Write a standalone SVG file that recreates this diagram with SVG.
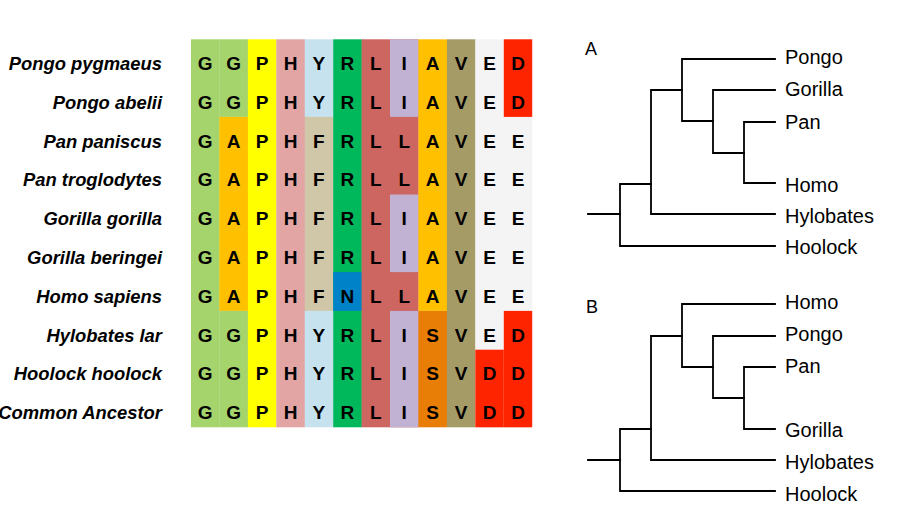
<svg xmlns="http://www.w3.org/2000/svg" width="900" height="522" viewBox="0 0 900 522">
<style>
.sp{font-family:"Liberation Sans",Arial,sans-serif;font-size:18.4px;font-weight:bold;font-style:italic;text-anchor:end;fill:#000}
.aa{font-family:"Liberation Sans",Arial,sans-serif;font-size:19px;font-weight:bold;text-anchor:middle;fill:#000}
.tl{font-family:"Liberation Sans",Arial,sans-serif;font-size:20px;fill:#000}
.pl{font-family:"Liberation Sans",Arial,sans-serif;font-size:18px;fill:#000}
.br{fill:none;stroke:#000;stroke-width:1.8;stroke-linecap:square}
.cG{fill:#A6D46C}.cA{fill:#FFC000}.cP{fill:#FFFF00}.cH{fill:#E3A4A4}.cY{fill:#C5E2EE}.cF{fill:#D0C6A8}
.cR{fill:#00B85C}.cN{fill:#0082C8}.cL{fill:#CD6661}.cI{fill:#C1B2D3}.cS{fill:#E97E07}.cV{fill:#A59B67}
.cE{fill:#F4F4F4}.cD{fill:#FF2400}
</style>
<rect width="900" height="522" fill="#fff"/>
<g id="alignment-colors">
<rect class="cG" x="191" y="39.3" width="28.7" height="388"/>
<rect class="cG" x="219.4" y="39.3" width="28.7" height="77.6"/>
<rect class="cA" x="219.4" y="116.9" width="28.7" height="194"/>
<rect class="cG" x="219.4" y="310.9" width="28.7" height="116.4"/>
<rect class="cP" x="247.9" y="39.3" width="28.7" height="388"/>
<rect class="cH" x="276.3" y="39.3" width="28.7" height="388"/>
<rect class="cY" x="304.7" y="39.3" width="28.7" height="77.6"/>
<rect class="cF" x="304.7" y="116.9" width="28.7" height="194"/>
<rect class="cY" x="304.7" y="310.9" width="28.7" height="116.4"/>
<rect class="cR" x="333.2" y="39.3" width="28.7" height="388"/>
<rect class="cN" x="333.2" y="272.1" width="28.7" height="38.8"/>
<rect class="cL" x="361.6" y="39.3" width="28.7" height="388"/>
<rect class="cL" x="390" y="39.3" width="28.7" height="388"/>
<rect class="cI" x="390" y="39.3" width="28.5" height="77.6"/>
<rect class="cI" x="390" y="194.5" width="28.5" height="77.6"/>
<rect class="cI" x="390" y="310.9" width="28.5" height="116.4"/>
<rect class="cA" x="418.4" y="39.3" width="28.7" height="271.6"/>
<rect class="cS" x="418.4" y="310.9" width="28.7" height="116.4"/>
<rect class="cV" x="446.9" y="39.3" width="28.7" height="388"/>
<rect class="cE" x="475.3" y="39.3" width="28.7" height="388"/>
<rect class="cD" x="475.3" y="349.7" width="28.7" height="77.6"/>
<rect class="cE" x="503.8" y="39.3" width="28.4" height="388"/>
<rect class="cD" x="503.8" y="39.3" width="28.4" height="77.6"/>
<rect class="cD" x="503.8" y="310.9" width="28.4" height="116.4"/>
</g>
<g id="row-pongo-pygmaeus">
<text class="sp" x="162" y="70">Pongo pygmaeus</text>
<text class="aa" y="70"><tspan x="205.2">G</tspan><tspan x="233.6">G</tspan><tspan x="262.1">P</tspan><tspan x="290.5">H</tspan><tspan x="318.9">Y</tspan><tspan x="347.4">R</tspan><tspan x="375.8">L</tspan><tspan x="404.2">I</tspan><tspan x="432.6">A</tspan><tspan x="461.1">V</tspan><tspan x="489.5">E</tspan><tspan x="518">D</tspan></text>
</g>
<g id="row-pongo-abelii">
<text class="sp" x="162" y="108.8">Pongo abelii</text>
<text class="aa" y="108.8"><tspan x="205.2">G</tspan><tspan x="233.6">G</tspan><tspan x="262.1">P</tspan><tspan x="290.5">H</tspan><tspan x="318.9">Y</tspan><tspan x="347.4">R</tspan><tspan x="375.8">L</tspan><tspan x="404.2">I</tspan><tspan x="432.6">A</tspan><tspan x="461.1">V</tspan><tspan x="489.5">E</tspan><tspan x="518">D</tspan></text>
</g>
<g id="row-pan-paniscus">
<text class="sp" x="162" y="147.6">Pan paniscus</text>
<text class="aa" y="147.6"><tspan x="205.2">G</tspan><tspan x="233.6">A</tspan><tspan x="262.1">P</tspan><tspan x="290.5">H</tspan><tspan x="318.9">F</tspan><tspan x="347.4">R</tspan><tspan x="375.8">L</tspan><tspan x="404.2">L</tspan><tspan x="432.6">A</tspan><tspan x="461.1">V</tspan><tspan x="489.5">E</tspan><tspan x="518">E</tspan></text>
</g>
<g id="row-pan-troglodytes">
<text class="sp" x="162" y="186.4">Pan troglodytes</text>
<text class="aa" y="186.4"><tspan x="205.2">G</tspan><tspan x="233.6">A</tspan><tspan x="262.1">P</tspan><tspan x="290.5">H</tspan><tspan x="318.9">F</tspan><tspan x="347.4">R</tspan><tspan x="375.8">L</tspan><tspan x="404.2">L</tspan><tspan x="432.6">A</tspan><tspan x="461.1">V</tspan><tspan x="489.5">E</tspan><tspan x="518">E</tspan></text>
</g>
<g id="row-gorilla-gorilla">
<text class="sp" x="162" y="225.2">Gorilla gorilla</text>
<text class="aa" y="225.2"><tspan x="205.2">G</tspan><tspan x="233.6">A</tspan><tspan x="262.1">P</tspan><tspan x="290.5">H</tspan><tspan x="318.9">F</tspan><tspan x="347.4">R</tspan><tspan x="375.8">L</tspan><tspan x="404.2">I</tspan><tspan x="432.6">A</tspan><tspan x="461.1">V</tspan><tspan x="489.5">E</tspan><tspan x="518">E</tspan></text>
</g>
<g id="row-gorilla-beringei">
<text class="sp" x="162" y="264">Gorilla beringei</text>
<text class="aa" y="264"><tspan x="205.2">G</tspan><tspan x="233.6">A</tspan><tspan x="262.1">P</tspan><tspan x="290.5">H</tspan><tspan x="318.9">F</tspan><tspan x="347.4">R</tspan><tspan x="375.8">L</tspan><tspan x="404.2">I</tspan><tspan x="432.6">A</tspan><tspan x="461.1">V</tspan><tspan x="489.5">E</tspan><tspan x="518">E</tspan></text>
</g>
<g id="row-homo-sapiens">
<text class="sp" x="162" y="302.8">Homo sapiens</text>
<text class="aa" y="302.8"><tspan x="205.2">G</tspan><tspan x="233.6">A</tspan><tspan x="262.1">P</tspan><tspan x="290.5">H</tspan><tspan x="318.9">F</tspan><tspan x="347.4">N</tspan><tspan x="375.8">L</tspan><tspan x="404.2">L</tspan><tspan x="432.6">A</tspan><tspan x="461.1">V</tspan><tspan x="489.5">E</tspan><tspan x="518">E</tspan></text>
</g>
<g id="row-hylobates-lar">
<text class="sp" x="162" y="341.6">Hylobates lar</text>
<text class="aa" y="341.6"><tspan x="205.2">G</tspan><tspan x="233.6">G</tspan><tspan x="262.1">P</tspan><tspan x="290.5">H</tspan><tspan x="318.9">Y</tspan><tspan x="347.4">R</tspan><tspan x="375.8">L</tspan><tspan x="404.2">I</tspan><tspan x="432.6">S</tspan><tspan x="461.1">V</tspan><tspan x="489.5">E</tspan><tspan x="518">D</tspan></text>
</g>
<g id="row-hoolock-hoolock">
<text class="sp" x="162" y="380.4">Hoolock hoolock</text>
<text class="aa" y="380.4"><tspan x="205.2">G</tspan><tspan x="233.6">G</tspan><tspan x="262.1">P</tspan><tspan x="290.5">H</tspan><tspan x="318.9">Y</tspan><tspan x="347.4">R</tspan><tspan x="375.8">L</tspan><tspan x="404.2">I</tspan><tspan x="432.6">S</tspan><tspan x="461.1">V</tspan><tspan x="489.5">D</tspan><tspan x="518">D</tspan></text>
</g>
<g id="row-common-ancestor">
<text class="sp" x="162" y="419.2">Common Ancestor</text>
<text class="aa" y="419.2"><tspan x="205.2">G</tspan><tspan x="233.6">G</tspan><tspan x="262.1">P</tspan><tspan x="290.5">H</tspan><tspan x="318.9">Y</tspan><tspan x="347.4">R</tspan><tspan x="375.8">L</tspan><tspan x="404.2">I</tspan><tspan x="432.6">S</tspan><tspan x="461.1">V</tspan><tspan x="489.5">D</tspan><tspan x="518">D</tspan></text>
</g>
<g id="connectors">
<path class="br" d="M775 59 H682 V121 H713"/>
<path class="br" d="M775 90 H713 V153 H744"/>
<path class="br" d="M775 122 H744 V183 H775"/>
<path class="br" d="M682 90 H651 V214 H775"/>
<path class="br" d="M651 184 H620 V246 H775"/>
<path class="br" d="M588 214 H620"/>
<path class="br" d="M775 304 H682 V367 H713"/>
<path class="br" d="M775 336 H713 V398 H744"/>
<path class="br" d="M775 367 H744 V429 H775"/>
<path class="br" d="M682 336 H651 V460 H775"/>
<path class="br" d="M651 429 H620 V491 H775"/>
<path class="br" d="M588 460 H620"/>
</g>
<g id="panel-A"><text class="pl" x="585" y="55">A</text></g>
<g id="A-pongo"><text class="tl" x="785" y="64">Pongo</text></g>
<g id="A-gorilla"><text class="tl" x="785" y="95.7">Gorilla</text></g>
<g id="A-pan"><text class="tl" x="785" y="129">Pan</text></g>
<g id="A-homo"><text class="tl" x="785" y="191.7">Homo</text></g>
<g id="A-hylobates"><text class="tl" x="785" y="222.7">Hylobates</text></g>
<g id="A-hoolock"><text class="tl" x="785" y="254">Hoolock</text></g>
<g id="panel-B"><text class="pl" x="586" y="313.3">B</text></g>
<g id="B-homo"><text class="tl" x="785" y="309.3">Homo</text></g>
<g id="B-pongo"><text class="tl" x="785" y="340.7">Pongo</text></g>
<g id="B-pan"><text class="tl" x="785" y="373.3">Pan</text></g>
<g id="B-gorilla"><text class="tl" x="785" y="436.7">Gorilla</text></g>
<g id="B-hylobates"><text class="tl" x="785" y="469.3">Hylobates</text></g>
<g id="B-hoolock"><text class="tl" x="785" y="500.7">Hoolock</text></g>
</svg>
